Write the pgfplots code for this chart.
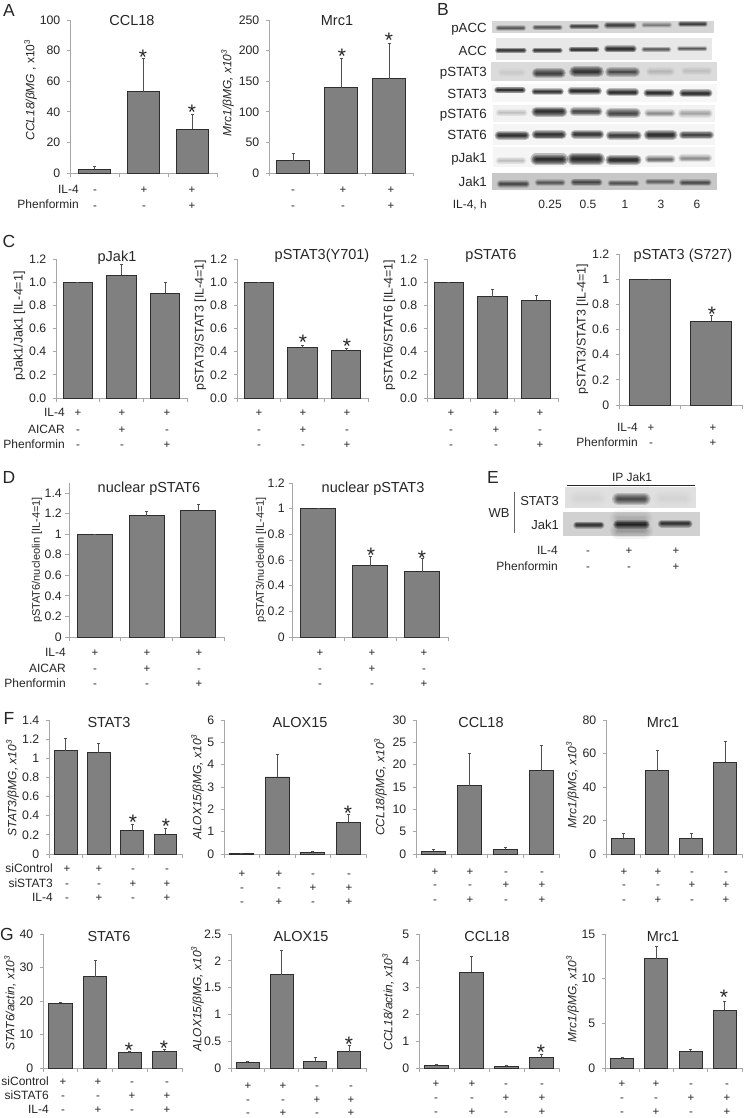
\documentclass[border=0pt]{standalone}
\usepackage{pgfplots}
\pgfplotsset{compat=1.18}
\usepackage{fontspec}
\setmainfont{Liberation Sans}
\definecolor{axg}{HTML}{A8A8A8}
\definecolor{barf}{HTML}{808080}
\definecolor{bare}{HTML}{2E2E2E}
\definecolor{errc}{HTML}{505050}
\definecolor{txt}{HTML}{262626}
\pgfplotsset{pan/.style={
  scale only axis, anchor=south west, axis lines=left, axis line style={axg,line width=0.9pt,-},
  ymin=0, xmin=0, xtick distance=1, xticklabels={}, tick align=outside, major tick length=3.5pt,
  tick style={axg,line width=0.8pt}, ytick pos=left, xtick pos=bottom, clip=false,
  yticklabel style={font=\fontsize{12.3}{12.3}\selectfont,text=txt,inner sep=0pt,xshift=-6pt},
  ybar, bar shift=0pt,
  error bars/y dir=plus, error bars/y explicit,
  error bars/error bar style={errc,line width=0.9pt},
  error bars/error mark options={rotate=90,mark size=1.5pt,errc,line width=0.7pt},
}}
% #1 x0, #2 x1, #3 ytop, #4 ybottom, #5 options, #6 bar width, #7 coordinates
\newcommand{\bp}[7]{%
  \pgfmathsetmacro\W{#2-#1}\pgfmathsetmacro\H{#4-#3}%
  \begin{axis}[pan, at={(#1pt,-#4pt)}, width=\W pt, height=\H pt, #5]
    \addplot[ybar, bar width=#6pt, fill=barf, draw=bare, line width=0.9pt] coordinates {#7};
  \end{axis}}
% text: [opts] x y size text
\newcommand{\T}[5][]{\pgfmathsetmacro\hh{#4*0.72}%
  \node[inner sep=0pt,text=txt,text height=\hh pt,text depth=0pt,font=\fontsize{#4}{#4}\selectfont,#1] at (#2pt,-#3pt) {#5};}
\newcommand{\signs}[2]{\foreach \x/\s in {#2} {\node[inner sep=0pt,text=txt,text height=8.2pt,text depth=0pt,font=\fontsize{11.5}{11.5}\selectfont] at (\x pt,-#1pt) {\s};}}
\newcommand{\st}[2]{\node[inner sep=0pt,text=txt,font=\fontsize{21}{21}\selectfont] at (#1pt,-#2pt) {\makebox[0pt]{\raisebox{-12pt}[0pt][0pt]{*}}};}
\newcommand{\YL}[4][12]{\T[rotate=90]{#2}{#3}{#1}{#4}}
\newcommand{\band}[5]{% x1 x2 y thick dark
  \foreach \k in {2.8,2.2,1.7,1.25,0.85,0.45} {\draw[line cap=round,black,opacity=#5*0.24,line width=#4*\k] (#1,#3) .. controls ({(#1+#2)/2},#3-1.5) .. (#2,#3);}}
\begin{document}
\begin{tikzpicture}
\path[use as bounding box] (0pt,0pt) rectangle (745pt,-1118pt);
\fill[white] (0pt,0pt) rectangle (745pt,-1118pt);
% ---- panel letters
\T{9}{10}{17.5}{A} \T{443}{9}{17.5}{B} \T{9}{241}{17.5}{C} \T{9}{477}{17.5}{D} \T{493}{477}{17.5}{E} \T{9}{718}{17.5}{F} \T{7}{934}{17.5}{G}
% ---- A
\bp{70}{217}{20}{173}{xmax=3,ymax=100,ytick={0,20,40,60,80,100},yticklabels={0,20,40,60,80,100}}{32.5}{(0.5,2.5)+-(0,2) (1.5,53)+-(0,22) (2.5,28.5)+-(0,10)}
\bp{269}{413}{20}{173}{xmax=3,ymax=250,ytick={0,50,100,150,200,250},yticklabels={0,50,100,150,200,250}}{32.5}{(0.5,20)+-(0,12) (1.5,139)+-(0,48) (2.5,154)+-(0,58)}
\T{132}{20}{14.5}{CCL18} \T{337}{20}{14.5}{Mrc1}
\YL{30}{90}{\itshape CCL18/βMG\upshape\ , x10\textsuperscript{3}}
\YL{227}{93}{\itshape Mrc1/βMG, x10\textsuperscript{3}}
\T[anchor=east]{79}{189}{12}{IL-4} \T[anchor=east]{79}{204}{12}{Phenformin}
\signs{189}{95/-,144/+,192/+} \signs{205}{95/-,144/-,192/+}
\signs{189}{293/-,343/+,391/+} \signs{205}{293/-,343/-,391/+}
\st{143}{53} \st{192}{108} \st{342}{52} \st{389}{36}
% ---- B
\begin{scope}[shift={(400pt,0pt)},x=0.3333pt,y=-0.3333pt]
\fill[black!16] (277,62) rectangle (942,98);
\fill[black!9] (287,115) rectangle (936,180);
\fill[black!14] (272,185) rectangle (950,242);
\fill[black!3] (275,252) rectangle (950,306);
\fill[black!5] (280,315) rectangle (945,365);
\fill[black!4] (280,372) rectangle (945,435);
\fill[black!4] (280,442) rectangle (945,502);
\fill[black!22] (277,520) rectangle (950,570);
\foreach \a/\b/\y/\t/\d in {
 295/370/84/2pt/.55,405/480/82/2pt/.55,515/590/79/2pt/.7,622/700/76/2.5pt/.75,732/808/75/2pt/.35,842/915/72/2pt/.75,
 293/372/151/2pt/.85,404/480/151/2pt/.85,514/590/149/2pt/.9,622/700/147/2.5pt/.9,732/806/148/2pt/.55,838/915/146/1.7pt/.6,
 305/365/218/3pt/.05,410/483/220/3.5pt/.75,524/595/215/4pt/.85,630/706/216/3.5pt/.65,750/812/215/3pt/.12,855/925/213/3pt/.08,
 292/368/270/2.3pt/.95,404/482/275/2.3pt/.9,514/594/273/2.8pt/.95,629/706/277/2.8pt/.95,742/812/279/2.8pt/.95,849/926/280/2.8pt/.95,
 297/372/338/2.6pt/.15,409/487/335/3.6pt/.95,521/595/335/3pt/.75,631/708/340/3.6pt/.75,744/815/340/2.8pt/.35,846/926/340/3pt/.25,
 297/376/406/3.2pt/.95,409/486/404/3.4pt/.95,524/600/403/3pt/.9,631/712/407/3.2pt/.85,746/818/405/3.6pt/.95,849/930/405/3pt/.75,
 297/369/482/2.6pt/.17,409/487/478/4.2pt/1,519/597/477/4.2pt/1,631/710/480/3.6pt/.95,746/815/478/2.8pt/.5,846/925/475/2.8pt/.35,
 301/379/552/2.6pt/.6,414/487/548/2.4pt/.5,522/597/547/2.6pt/.65,632/709/550/2.2pt/.55,744/817/545/2.2pt/.45,847/925/548/2.4pt/.6}
 {\band{\a}{\b}{\y}{\t}{\d}}
\end{scope}
\T[anchor=east]{487}{28}{13.3}{pACC} \T[anchor=east]{487}{51}{13.3}{ACC} \T[anchor=east]{487}{72}{13.3}{pSTAT3} \T[anchor=east]{487}{94}{13.3}{STAT3}
\T[anchor=east]{487}{114}{13.3}{pSTAT6} \T[anchor=east]{487}{135}{13.3}{STAT6} \T[anchor=east]{487}{158}{13.3}{pJak1} \T[anchor=east]{487}{182}{13.3}{Jak1}
\T[anchor=east]{487}{204}{12}{IL-4, h} \T{550}{204}{12}{0.25} \T{588}{204}{12}{0.5} \T{625}{204}{12}{1} \T{661}{204}{12}{3} \T{697}{204}{12}{6}
% ---- C
\def\cticks{ymax=1.2,ytick={0,0.2,0.4,0.6,0.8,1,1.2},yticklabels={0.0,0.2,0.4,0.6,0.8,1.0,1.2}}
\bp{56}{187}{259}{398}{xmax=3,\cticks}{29.5}{(0.5,1)+-(0,0) (1.5,1.06)+-(0,0.09) (2.5,0.905)+-(0,0.095)}
\bp{237}{368}{259}{398}{xmax=3,\cticks}{29.5}{(0.5,1)+-(0,0) (1.5,0.435)+-(0,0.02) (2.5,0.41)+-(0,0.02)}
\bp{427}{558}{259}{398}{xmax=3,\cticks}{29.5}{(0.5,1)+-(0,0) (1.5,0.875)+-(0,0.065) (2.5,0.845)+-(0,0.045)}
\bp{619}{742}{254}{405}{xmax=2,ymax=1.2,ytick={0,0.2,0.4,0.6,0.8,1,1.2},yticklabels={0,0.2,0.4,0.6,0.8,1,1.2}}{41}{(0.5,1)+-(0,0) (1.5,0.665)+-(0,0.05)}
\T{117}{256}{14.5}{pJak1} \T{322}{254}{14.5}{pSTAT3(Y701)} \T{491}{254}{14.5}{pSTAT6} \T{683}{254}{14.5}{pSTAT3 (S727)}
\YL[12.5]{18}{326}{pJak1/Jak1 [IL-4=1]} \YL[12.5]{199}{325}{pSTAT3/STAT3 [IL-4=1]} \YL[12.5]{388}{325}{pSTAT6/STAT6 [IL-4=1]} \YL[12.5]{581}{329}{pSTAT3/STAT3 [IL-4=1]}
\T[anchor=east]{65}{412}{12}{IL-4} \T[anchor=east]{65}{429}{12}{AICAR} \T[anchor=east]{65}{444}{12}{Phenformin}
\signs{412}{78/+,122/+,167/+} \signs{429}{78/-,122/+,167/-} \signs{444}{78/-,122/-,167/+}
\signs{412}{259/+,303/+,347/+} \signs{429}{259/-,303/+,347/-} \signs{444}{259/-,303/-,347/+}
\signs{412}{451/+,496/+,540/+} \signs{429}{451/-,496/+,540/-} \signs{444}{451/-,496/-,540/+}
\T[anchor=east]{638}{427}{12}{IL-4} \T[anchor=east]{638}{442}{12}{Phenformin}
\signs{427}{651/+,713/+} \signs{442}{651/-,713/+}
\st{303}{337} \st{347}{341} \st{712}{309}
% ---- D
\bp{69}{224}{483}{637}{xmax=3,ymax=1.497,ytick={0,0.2,0.4,0.6,0.8,1,1.2,1.4},yticklabels={0,0.2,0.4,0.6,0.8,1,1.2,1.4},yticklabel style={xshift=2.5pt}}{35}{(0.5,1)+-(0,0) (1.5,1.18)+-(0,0.045) (2.5,1.23)+-(0,0.06)}
\bp{292}{448}{483}{637}{xmax=3,ymax=1.2,ytick={0,0.2,0.4,0.6,0.8,1,1.2},yticklabels={0,0.2,0.4,0.6,0.8,1,1.2},yticklabel style={xshift=2.5pt}}{35}{(0.5,1)+-(0,0) (1.5,0.555)+-(0,0.07) (2.5,0.51)+-(0,0.1)}
\T{149}{487}{14.5}{nuclear pSTAT6} \T{373}{487}{14.5}{nuclear pSTAT3}
\YL[11]{36}{560}{pSTAT6/nucleolin [IL-4=1]} \YL[11]{260}{560}{pSTAT3/nucleolin [IL-4=1]}
\T[anchor=east]{66}{652}{12}{IL-4} \T[anchor=east]{66}{668}{12}{AICAR} \T[anchor=east]{66}{683}{12}{Phenformin}
\signs{652}{95/+,147/+,199/+} \signs{668}{95/-,147/+,199/-} \signs{683}{95/-,147/-,199/+}
\signs{652}{320/+,372/+,424/+} \signs{668}{320/-,372/+,424/-} \signs{683}{320/-,372/-,424/+}
\st{371}{550} \st{422}{553}
% ---- E
\begin{scope}[shift={(400pt,-480pt)},x=0.3333pt,y=-0.3333pt]
\fill[black!12] (495,22) rectangle (888,85);
\fill[black!18] (490,97) rectangle (900,168);
\foreach \a/\b/\y/\t/\d in {530/595/55/6pt/.04,655/733/57/4.5pt/.65,785/855/55/6pt/.04,
 530/603/135/2.5pt/.8,653/736/133/3.2pt/.95,655/733/115/6pt/.12,655/733/152/6pt/.2,785/866/131/2.8pt/.85}
 {\band{\a}{\b}{\y}{\t}{\d}}
\draw[txt,line width=0.8pt] (500,16) -- (885,16);
\draw[black!60,line width=1pt] (345,35) -- (345,160);
\end{scope}
\T{632}{477}{12}{IP Jak1}
\T{499}{513}{13}{WB} \T[anchor=east]{559}{501}{13}{STAT3} \T[anchor=east]{559}{525}{13}{Jak1}
\T[anchor=east]{558}{550}{12}{IL-4} \T[anchor=east]{558}{566}{12}{Phenformin}
\signs{550}{588/-,629/+,676/+} \signs{566}{588/-,629/-,676/+}
% ---- F
\bp{49}{182}{720}{854}{xmax=4,ymax=1.4,ytick={0,0.2,0.4,0.6,0.8,1,1.2,1.4},yticklabels={0,0.2,0.4,0.6,0.8,1,1.2,1.4}}{22.7}{(0.5,1.08)+-(0,0.13) (1.5,1.06)+-(0,0.10) (2.5,0.245)+-(0,0.07) (3.5,0.205)+-(0,0.06)}
\bp{224}{366}{720}{854}{xmax=4,ymax=6,ytick={0,1,2,3,4,5,6},yticklabels={0,1,2,3,4,5,6}}{24}{(0.5,0.02)+-(0,0) (1.5,3.45)+-(0,1.03) (2.5,0.07)+-(0,0.04) (3.5,1.42)+-(0,0.35)}
\bp{416}{559}{720}{854}{xmax=4,ymax=30,ytick={0,5,10,15,20,25,30},yticklabels={0,5,10,15,20,25,30}}{24}{(0.5,0.6)+-(0,0.35) (1.5,15.3)+-(0,7.2) (2.5,1.1)+-(0,0.5) (3.5,18.6)+-(0,5.8)}
\bp{606}{742}{720}{854}{xmax=4,ymax=80,ytick={0,20,40,60,80},yticklabels={0,20,40,60,80}}{23}{(0.5,9.3)+-(0,3) (1.5,49.7)+-(0,12.1) (2.5,9.2)+-(0,2.9) (3.5,54.8)+-(0,12.2)}
\T{109}{722}{14.5}{STAT3} \T{300}{722}{14.5}{ALOX15} \T{481}{722}{14.5}{CCL18} \T{663}{722}{14.5}{Mrc1}
\YL{12}{788}{\itshape STAT3/βMG, x10\textsuperscript{3}} \YL{197}{787}{\itshape ALOX15/βMG, x10\textsuperscript{3}} \YL{380}{787}{\itshape CCL18/βMG, x10\textsuperscript{3}} \YL{572}{785}{\itshape Mrc1/βMG, x10\textsuperscript{3}}
\T[anchor=east]{53}{868}{12}{siControl} \T[anchor=east]{53}{883}{12}{siSTAT3} \T[anchor=east]{53}{897}{12}{IL-4}
\signs{868}{67/+,99/+,133/-,167/-} \signs{883}{67/-,99/-,133/+,167/+} \signs{897}{67/-,99/+,133/-,167/+}
\signs{873}{242/+,279/+,313/-,349/-} \signs{887}{242/-,279/-,313/+,349/+} \signs{901}{242/-,279/+,313/-,349/+}
\signs{871}{435/+,470/+,506/-,542/-} \signs{884}{435/-,470/-,506/+,542/+} \signs{899}{435/-,470/+,506/-,542/+}
\signs{871}{624/+,658/+,692/-,726/-} \signs{884}{624/-,658/-,692/+,726/+} \signs{899}{624/-,658/+,692/-,726/+}
\st{133}{817} \st{166}{821} \st{348}{808}
% ---- G
\bp{43}{182}{934}{1068}{xmax=4,ymax=40,ytick={0,10,20,30,40},yticklabels={0,10,20,30,40}}{23.5}{(0.5,19.3)+-(0,0.4) (1.5,27.3)+-(0,4.7) (2.5,4.6)+-(0,0.4) (3.5,5)+-(0,0.6)}
\bp{231}{366}{934}{1068}{xmax=4,ymax=2.5,ytick={0,0.5,1,1.5,2,2.5},yticklabels={0,0.5,1,1.5,2,2.5}}{23}{(0.5,0.1)+-(0,0.015) (1.5,1.74)+-(0,0.46) (2.5,0.12)+-(0,0.07) (3.5,0.3)+-(0,0.13)}
\bp{419}{559}{934}{1068}{xmax=4,ymax=5,ytick={0,1,2,3,4,5},yticklabels={0,1,2,3,4,5}}{23.5}{(0.5,0.1)+-(0,0.03) (1.5,3.58)+-(0,0.59) (2.5,0.07)+-(0,0.02) (3.5,0.4)+-(0,0.1)}
\bp{605}{742}{934}{1068}{xmax=4,ymax=15,ytick={0,5,10,15},yticklabels={0,5,10,15}}{23}{(0.5,1.05)+-(0,0.1) (1.5,12.25)+-(0,1.35) (2.5,1.9)+-(0,0.2) (3.5,6.45)+-(0,1)}
\T{109}{936}{14.5}{STAT6} \T{301}{936}{14.5}{ALOX15} \T{487}{936}{14.5}{CCL18} \T{663}{936}{14.5}{Mrc1}
\YL{10}{1003}{\itshape STAT6/actin, x10\textsuperscript{3}} \YL{197}{999}{\itshape ALOX15/βMG, x10\textsuperscript{3}} \YL{388}{1002}{\itshape CCL18/actin, x10\textsuperscript{3}} \YL{572}{999}{\itshape Mrc1/βMG, x10\textsuperscript{3}}
\T[anchor=east]{49}{1081}{12}{siControl} \T[anchor=east]{49}{1095}{12}{siSTAT6} \T[anchor=east]{49}{1109}{12}{IL-4}
\signs{1081}{63/+,98/+,132/-,167/-} \signs{1095}{63/-,98/-,132/+,167/+} \signs{1109}{63/-,98/+,132/-,167/+}
\signs{1085}{248/+,283/+,317/-,351/-} \signs{1099}{248/-,283/-,317/+,351/+} \signs{1112.5}{248/-,283/+,317/-,351/+}
\signs{1083}{436/+,472/+,506/-,542/-} \signs{1097}{436/-,472/-,506/+,542/+} \signs{1111}{436/-,472/+,506/-,542/+}
\signs{1083}{622/+,656/+,691/-,727/-} \signs{1097}{622/-,656/-,691/+,727/+} \signs{1111}{622/-,656/+,691/-,727/+}
\st{129}{1045} \st{164}{1043} \st{349}{1039} \st{541}{1047} \st{724}{992}
\end{tikzpicture}
\end{document}
